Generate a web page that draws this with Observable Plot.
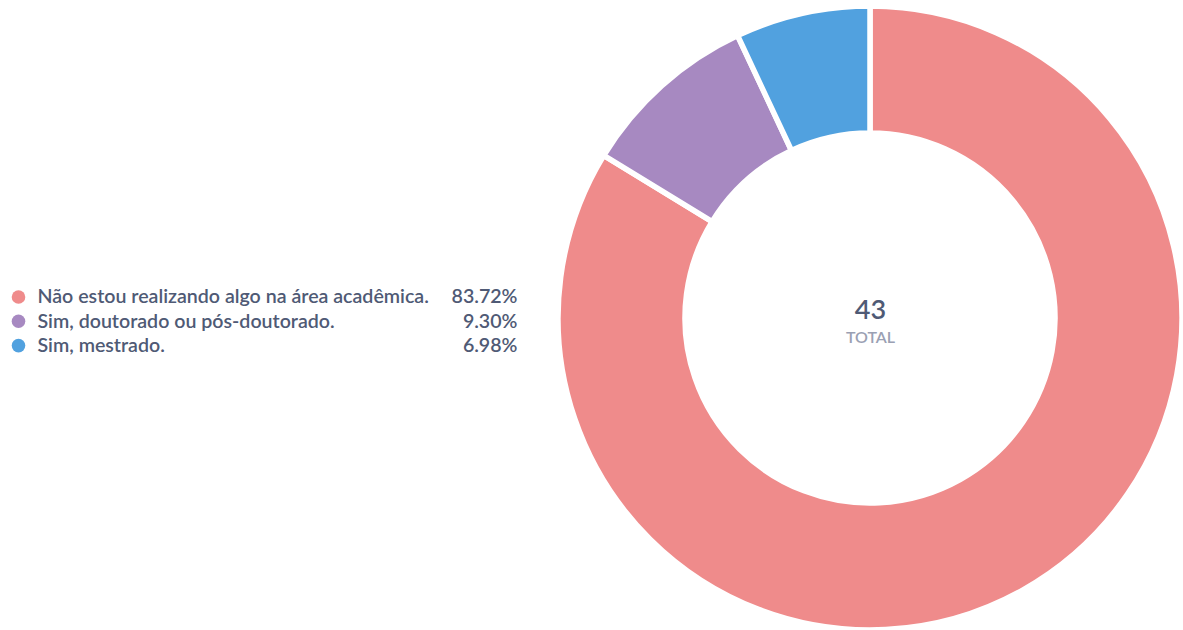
<!DOCTYPE html>
<html>
<head>
<meta charset="utf-8">
<script src="https://cdn.jsdelivr.net/npm/d3@7"></script>
<script src="https://cdn.jsdelivr.net/npm/@observablehq/plot@0.6"></script>
<style>
  html, body { margin: 0; padding: 0; background: #fff; }
  #chart { width: 1183px; height: 630px; }
</style>
</head>
<body>
<div id="chart"></div>
<script>
const categories = [
  "Não estou realizando algo na área acadêmica.",
  "Sim, doutorado ou pós-doutorado.",
  "Sim, mestrado."
];
const counts = [36, 4, 3];
const percentLabels = ["83.72%", "9.30%", "6.98%"];
const colors = ["#EF8B8B", "#A789C1", "#51A1DF"];
const totalLabel = "TOTAL";

const W = 1183, H = 630;
const cx = 870, cy = 318, rOuter = 312, rInner = 185;
const total = d3.sum(counts);

const data = categories.map((c, i) => ({category: c, value: counts[i], pct: percentLabels[i], color: colors[i], row: i}));

const pie = d3.pie().sort(null).value(d => d.value);
const arcs = pie(data);
const arcGen = d3.arc().innerRadius(rInner).outerRadius(rOuter);

function donutMark(index, scales, values, dimensions) {
  const g = d3.create("svg:g");
  const X = scales.x(cx), Y = scales.y(cy);
  g.attr("transform", `translate(${X},${Y})`);
  g.selectAll("path")
    .data(arcs)
    .join("path")
    .attr("d", arcGen)
    .attr("fill", d => d.data.color)
    .attr("stroke", "#fff")
    .attr("stroke-width", 5.5)
    .attr("stroke-linejoin", "round");
  return g.node();
}

const rowY = i => 296.5 + i * 24.3;

const plot = Plot.plot({
  width: W,
  height: H,
  margin: 0,
  x: {domain: [0, W], range: [0, W], axis: null},
  y: {domain: [0, H], range: [0, H], axis: null},
  style: {fontFamily: "Lato, 'Noto Sans', sans-serif", background: "#fff"},
  marks: [
    donutMark,
    Plot.dot(data, {x: () => 18, y: d => rowY(d.row), r: 6.8, fill: d => d.color, stroke: null}),
    Plot.text(data, {x: () => 37, y: d => rowY(d.row), text: "category", textAnchor: "start", fontSize: 19.6, fill: "#4F5A75", fontWeight: 600}),
    Plot.text(data, {x: () => 517, y: d => rowY(d.row), text: "pct", textAnchor: "end", fontSize: 19.6, fill: "#4F5A75", fontWeight: 600}),
    Plot.text([total], {x: () => cx, y: () => 310, text: d => String(d), fontSize: 27, fill: "#4F5A75", fontWeight: 600}),
    Plot.text([totalLabel], {x: () => cx, y: () => 337, text: d => d, fontSize: 16, fill: "#9AA0B3", fontWeight: 600})
  ]
});

document.getElementById("chart").appendChild(plot);
</script>
</body>
</html>
